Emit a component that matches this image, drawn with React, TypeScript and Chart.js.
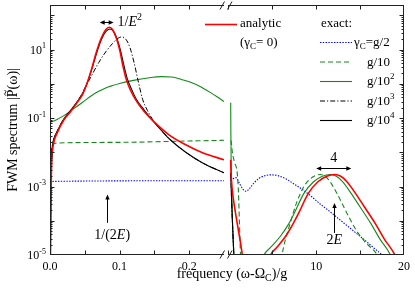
import React, { useEffect, useRef } from 'react';
import { Chart, registerables } from 'chart.js';

Chart.register(...registerables);

const FONT = '"Liberation Serif", "Times New Roman", Times, serif';
const AXIS_COLOR = '#222';

// ---------- axes ----------
const xLeftMin = 0;
const xLeftMax = 0.25;
const xRightMin = -0.5;
const xRightMax = 20;
const yMin = 1e-5;
const yMax = 200;
const xLeftTicks = [0, 0.05, 0.1, 0.15, 0.2];
const xLeftTickLabels = ['0.0', '', '0.1', '', '0.2'];
const xRightTicks = [0, 5, 10, 15, 20];
const xRightTickLabels = ['', '', '10', '', '20'];
const yLabelExponents = [-5, -3, -1, 1];

// ---------- series: [x, log10 |P(w)|] ----------
// analytic (gamma_C = 0)
const redLeft = [[0.0006,-5.3],[0.001,-4.2],[0.0015,-3.3],[0.002,-2.6],[0.003,-2.1],[0.005,-1.75],[0.01,-1.45],[0.02,-1.05],[0.03,-0.8],[0.04,-0.52],[0.047,-0.3],[0.053,0.0],[0.06,0.45],[0.067,0.95],[0.074,1.35],[0.08,1.58],[0.085,1.65],[0.09,1.58],[0.095,1.35],[0.1,1.0],[0.105,0.5],[0.11,0.1],[0.116,-0.2],[0.124,-0.5],[0.135,-0.8],[0.15,-1.12],[0.171,-1.49],[0.195,-1.78],[0.22,-2.02],[0.25,-2.22]];
const redRightEdge = [[0.26,-2.22],[0.3,-2.6],[0.44,-3.1],[0.63,-3.48],[1.0,-4.07],[1.39,-4.66],[1.65,-5.1]];
const redRightPeak = [[4.6,-5.15],[4.8,-5.0],[5.5,-4.78],[6.5,-4.46],[7.3,-4.12],[8.0,-3.78],[9.1,-3.2],[10.2,-2.86],[11.2,-2.7],[12.1,-2.65],[12.8,-2.7],[13.5,-2.86],[14.4,-3.17],[15.5,-3.6],[16.7,-4.07],[17.8,-4.55],[18.9,-4.97],[19.1,-5.1]];
// exact, gamma_C = g/10^4
const blackLeft = [[0.0005,-5.3],[0.0009,-4],[0.0013,-3],[0.002,-2.3],[0.003,-1.9],[0.005,-1.65],[0.01,-1.4],[0.02,-1.02],[0.03,-0.77],[0.04,-0.5],[0.047,-0.28],[0.053,0.0],[0.06,0.42],[0.067,0.9],[0.074,1.3],[0.08,1.52],[0.086,1.6],[0.091,1.54],[0.096,1.33],[0.101,1.0],[0.106,0.55],[0.111,0.15],[0.117,-0.15],[0.124,-0.45],[0.135,-0.76],[0.147,-1.06],[0.16,-1.36],[0.172,-1.62],[0.195,-2.0],[0.22,-2.32],[0.25,-2.6]];
const blackRightEdge = [[0.26,-2.6],[0.35,-3.3],[0.45,-4.0],[0.55,-4.6],[0.66,-5.2]];
// exact, gamma_C = g/10^3
const dashDotLeft = [[0.0005,-5.3],[0.0009,-4],[0.0013,-3],[0.002,-2.3],[0.003,-1.9],[0.005,-1.65],[0.01,-1.4],[0.02,-1.02],[0.03,-0.77],[0.04,-0.5],[0.05,-0.13],[0.06,0.25],[0.07,0.62],[0.08,0.93],[0.09,1.18],[0.097,1.32],[0.103,1.37],[0.109,1.3],[0.115,1.05],[0.121,0.6],[0.127,0.05],[0.133,-0.45],[0.14,-0.78],[0.148,-1.06],[0.16,-1.36],[0.172,-1.62],[0.195,-2.0],[0.22,-2.32],[0.25,-2.6]];
const dashDotRightEdge = [[0.26,-2.6],[0.35,-3.3],[0.45,-4.0],[0.55,-4.6],[0.66,-5.2]];
// exact, gamma_C = g/10^2
const greenLeft = [[0,-1.13],[0.01,-1.04],[0.02,-0.93],[0.03,-0.79],[0.04,-0.64],[0.05,-0.49],[0.06,-0.34],[0.07,-0.22],[0.08,-0.12],[0.09,-0.05],[0.1,0.01],[0.12,0.1],[0.14,0.17],[0.16,0.21],[0.175,0.2],[0.19,0.12],[0.2,0.06],[0.21,-0.02],[0.22,-0.13],[0.23,-0.25],[0.24,-0.38],[0.25,-0.52]];
const greenRightEdge = [[0.26,-0.55],[0.28,-1.4],[0.31,-2.2],[0.36,-3.0],[0.45,-3.9],[0.55,-4.6],[0.66,-5.2]];
const greenRightPeak = [[3.85,-5.15],[4.05,-5.0],[4.8,-4.78],[5.9,-4.46],[6.8,-4.12],[7.5,-3.78],[8.6,-3.2],[9.7,-2.86],[10.7,-2.7],[11.6,-2.65],[12.3,-2.7],[13.0,-2.86],[13.9,-3.17],[15.0,-3.6],[16.2,-4.07],[17.3,-4.55],[18.4,-4.97],[18.6,-5.1]];
// exact, gamma_C = g/10
const greenDashLeft = [[0.0005,-5.3],[0.001,-3],[0.002,-2.1],[0.004,-1.78],[0.01,-1.73],[0.1,-1.71],[0.2,-1.67],[0.25,-1.65]];
const greenDashRightEdge = [[0.26,-1.65],[0.35,-1.75],[0.45,-2.0],[0.7,-2.3],[1.0,-2.6],[1.15,-3.2],[1.25,-4.0],[1.35,-4.8],[1.42,-5.2]];
const greenDashRightPeak = [[6.0,-5.15],[6.3,-4.75],[7.0,-4.1],[7.8,-3.45],[8.6,-3.0],[9.3,-2.78],[10.0,-2.67],[10.5,-2.65],[11.0,-2.7],[11.5,-2.83],[12.4,-3.22],[13.5,-3.78],[14.5,-4.25],[15.5,-4.6],[16.5,-4.85],[17.3,-5.1]];
// exact, gamma_C = g/2
const blueLeft = [[0.0005,-5.3],[0.001,-3.5],[0.002,-2.9],[0.005,-2.85],[0.25,-2.83]];
const blueRight = [[0.26,-2.83],[0.5,-2.78],[0.85,-2.74],[1.2,-2.88],[1.6,-3.06],[2.0,-3.14],[2.4,-3.06],[2.9,-2.9],[3.5,-2.76],[4.2,-2.68],[4.9,-2.66],[5.6,-2.68],[6.5,-2.77],[7.5,-2.93],[8.5,-3.1],[9.5,-3.3],[10.5,-3.52],[11.5,-3.72],[12.5,-3.93],[13.5,-4.14],[14.5,-4.35],[15.5,-4.56],[16.5,-4.78],[17.5,-5.0],[17.8,-5.1]];

// ---------- annotations (data coordinates) ----------
const widthArrowLeftX = [0.0714, 0.0914];
const widthArrowLeftY = 63;
const widthTextLeftX = 0.097;
const peakArrowLeftX = 0.0826;
const peakArrowLeftY = [8.7e-5, 5.8e-4];
const peakTextLeft = { x: 0.0893, y: 3.8e-5 };
const widthArrowRightX = [10, 14];
const widthArrowRightY = 3.5e-3;
const widthTextRight = { x: 12, y: 6.6e-3 };
const peakArrowRightX = 12.07;
const peakArrowRightY = [4.4e-5, 3.3e-4];
const peakTextRight = { x: 12.07, y: 2.6e-5 };

type Seg = { t: string; sub?: boolean; sup?: boolean; it?: boolean; tilde?: boolean };

const legendAnalytic: Seg[] = [{ t: 'analytic' }];
const legendAnalyticNote: Seg[] = [{ t: '(γ' }, { t: 'C', sub: true }, { t: '= 0)' }];
const legendExactTitle: Seg[] = [{ t: 'exact:' }];
const legendExact: Seg[][] = [
  [{ t: 'γ' }, { t: 'C', sub: true }, { t: '=g/2' }],
  [{ t: 'g/10' }],
  [{ t: 'g/10' }, { t: '2', sup: true }],
  [{ t: 'g/10' }, { t: '3', sup: true }],
  [{ t: 'g/10' }, { t: '4', sup: true }],
];
const xTitle: Seg[] = [{ t: 'frequency (ω-Ω' }, { t: 'C', sub: true }, { t: ')/g' }];
const yTitle: Seg[] = [{ t: 'FWM spectrum |' }, { t: 'P', tilde: true }, { t: '(ω)|' }];
const widthLabelLeft: Seg[] = [{ t: '1/' }, { t: 'E', it: true }, { t: '2', sup: true }];
const peakLabelLeft: Seg[] = [{ t: '1/(2' }, { t: 'E', it: true }, { t: ')' }];
const widthLabelRight: Seg[] = [{ t: '4' }];
const peakLabelRight: Seg[] = [{ t: '2' }, { t: 'E', it: true }];

const pts = (arr: number[][]) => arr.map(([x, e]) => ({ x, y: Math.pow(10, e) }));

const RED = '#ff0000';
const GREEN = '#14891a';
const BLUE = '#0000ff';
const BLACK = '#000000';

function ds(label: string, data: number[][], axis: string, color: string, width: number, dash: number[]) {
  return {
    label,
    data: pts(data),
    xAxisID: axis,
    yAxisID: 'y',
    borderColor: color,
    backgroundColor: color,
    borderWidth: width,
    borderDash: dash,
    pointRadius: 0,
    fill: false,
    cubicInterpolationMode: 'monotone' as const,
  };
}

const DASH_DOT = [5, 2, 1.2, 2];
const DASHED = [5, 3];
const DOTTED = [1.4, 1.4];

function segFont(s: Seg, size: number) {
  const sz = s.sub || s.sup ? Math.round(size * 0.7) : size;
  return `${s.it ? 'italic ' : ''}${sz}px ${FONT}`;
}
function richWidth(ctx: CanvasRenderingContext2D, segs: Seg[], size: number) {
  let w = 0;
  for (const s of segs) {
    ctx.font = segFont(s, size);
    w += ctx.measureText(s.t).width;
  }
  return w;
}
function drawRich(ctx: CanvasRenderingContext2D, segs: Seg[], x: number, y: number, size: number, align: 'left' | 'center' | 'right') {
  const w = richWidth(ctx, segs, size);
  let cx = align === 'left' ? x : align === 'center' ? x - w / 2 : x - w;
  ctx.textAlign = 'left';
  ctx.textBaseline = 'middle';
  for (const s of segs) {
    ctx.font = segFont(s, size);
    const dy = s.sub ? size * 0.3 : s.sup ? -size * 0.38 : 0;
    ctx.fillText(s.t, cx, y + dy);
    const sw = ctx.measureText(s.t).width;
    if (s.tilde) {
      const ty = y - size * 0.55;
      const a = cx + 1.5;
      const b = cx + sw - 0.5;
      const m = (a + b) / 2;
      ctx.save();
      ctx.lineWidth = 0.9;
      ctx.strokeStyle = ctx.fillStyle as string;
      ctx.beginPath();
      ctx.moveTo(a, ty + 0.8);
      ctx.quadraticCurveTo((a + m) / 2, ty - 1.6, m, ty);
      ctx.quadraticCurveTo((m + b) / 2, ty + 1.6, b, ty - 0.8);
      ctx.stroke();
      ctx.restore();
    }
    cx += sw;
  }
}
function line(ctx: CanvasRenderingContext2D, x1: number, y1: number, x2: number, y2: number) {
  ctx.beginPath();
  ctx.moveTo(x1, y1);
  ctx.lineTo(x2, y2);
  ctx.stroke();
}
function head(ctx: CanvasRenderingContext2D, x: number, y: number, dx: number, dy: number) {
  const L = 5, W = 2.2;
  const px = -dy, py = dx;
  ctx.beginPath();
  ctx.moveTo(x, y);
  ctx.lineTo(x - dx * L + px * W, y - dy * L + py * W);
  ctx.lineTo(x - dx * L - px * W, y - dy * L - py * W);
  ctx.closePath();
  ctx.fill();
}

const decor = {
  id: 'decor',
  afterDatasetsDraw(chart: any) {
    const ctx: CanvasRenderingContext2D = chart.ctx;
    const ca = chart.chartArea;
    const xL = chart.scales.xL;
    const xR = chart.scales.xR;
    const y = chart.scales.y;
    ctx.save();
    ctx.setLineDash([]);
    ctx.strokeStyle = AXIS_COLOR;
    ctx.fillStyle = '#000';
    ctx.lineWidth = 1;
    const L = Math.round(ca.left) + 0.5;
    const R = Math.round(ca.right) - 0.5;
    const T = Math.round(ca.top) + 0.5;
    const B = Math.round(ca.bottom) - 0.5;
    ctx.strokeRect(L, T, R - L, B - T);

    // x ticks (inward, top and bottom)
    const xt = (p: number, len: number) => {
      const q = Math.round(p) + 0.5;
      if (q <= L + 1 || q >= R - 1) return;
      line(ctx, q, B, q, B - len);
      line(ctx, q, T, q, T + len);
    };
    xLeftTicks.forEach((v) => xt(xL.getPixelForValue(v), 4));
    xRightTicks.forEach((v) => xt(xR.getPixelForValue(v), 4));

    // y ticks (log decades + minors), left and right
    for (let k = -5; k <= 2; k++) {
      for (let m = 1; m <= 9; m++) {
        const v = m * Math.pow(10, k);
        if (v < yMin || v > yMax) continue;
        const q = Math.round(y.getPixelForValue(v)) + 0.5;
        const len = m === 1 ? 4 : 2;
        if (q > T + 0.5 && q < B - 0.5) {
          line(ctx, L, q, L + len, q);
          line(ctx, R, q, R - len, q);
        }
      }
    }
    // y labels
    ctx.fillStyle = '#000';
    yLabelExponents.forEach((e) => {
      const q = y.getPixelForValue(Math.pow(10, e));
      drawRich(ctx, [{ t: '10' }, { t: String(e), sup: true }], ca.left - 4, q + 1, 12, 'right');
    });

    // axis break marks
    const bx = Math.round(xL.right) + 2;
    [B, T].forEach((yy) => {
      ctx.fillStyle = '#fff';
      ctx.fillRect(bx - 2, yy - 1, 4, 2);
      ctx.strokeStyle = AXIS_COLOR;
      line(ctx, bx - 6, yy + 4, bx - 1.5, yy - 4);
      line(ctx, bx + 1.5, yy + 4, bx + 6, yy - 4);
    });
    ctx.fillStyle = '#000';
    ctx.strokeStyle = '#000';

    // titles
    drawRich(ctx, xTitle, (ca.left + ca.right) / 2 + 5, ca.bottom + 19, 14, 'center');
    ctx.save();
    ctx.translate(13, (ca.top + ca.bottom) / 2);
    ctx.rotate(-Math.PI / 2);
    drawRich(ctx, yTitle, 0, 0, 14, 'center');
    ctx.restore();

    // annotations
    ctx.lineWidth = 1;
    {
      const a = xL.getPixelForValue(widthArrowLeftX[0]);
      const b = xL.getPixelForValue(widthArrowLeftX[1]);
      const yy = Math.round(y.getPixelForValue(widthArrowLeftY)) + 0.5;
      line(ctx, a + 2, yy, b - 2, yy);
      head(ctx, a, yy, -1, 0);
      head(ctx, b, yy, 1, 0);
      drawRich(ctx, widthLabelLeft, xL.getPixelForValue(widthTextLeftX), yy, 14, 'left');
    }
    {
      const xx = Math.round(xL.getPixelForValue(peakArrowLeftX)) + 0.5;
      const y1 = y.getPixelForValue(peakArrowLeftY[0]);
      const y2 = y.getPixelForValue(peakArrowLeftY[1]);
      line(ctx, xx, y1, xx, y2 + 3);
      head(ctx, xx, y2, 0, -1);
      drawRich(ctx, peakLabelLeft, xL.getPixelForValue(peakTextLeft.x), y.getPixelForValue(peakTextLeft.y), 14, 'center');
    }
    {
      const a = xR.getPixelForValue(widthArrowRightX[0]);
      const b = xR.getPixelForValue(widthArrowRightX[1]);
      const yy = Math.round(y.getPixelForValue(widthArrowRightY)) + 0.5;
      line(ctx, a + 2, yy, b - 2, yy);
      head(ctx, a, yy, -1, 0);
      head(ctx, b, yy, 1, 0);
      drawRich(ctx, widthLabelRight, xR.getPixelForValue(widthTextRight.x), y.getPixelForValue(widthTextRight.y), 14, 'center');
    }
    {
      const xx = Math.round(xR.getPixelForValue(peakArrowRightX)) + 0.5;
      const y1 = y.getPixelForValue(peakArrowRightY[0]);
      const y2 = y.getPixelForValue(peakArrowRightY[1]);
      line(ctx, xx, y1, xx, y2 + 3);
      head(ctx, xx, y2, 0, -1);
      drawRich(ctx, peakLabelRight, xR.getPixelForValue(peakTextRight.x), y.getPixelForValue(peakTextRight.y), 14, 'center');
    }

    // legend
    const dsets = chart.data.datasets;
    const sample = (d: any, x1: number, x2: number, yy: number) => {
      ctx.save();
      ctx.strokeStyle = d.borderColor;
      ctx.lineWidth = d.borderWidth;
      ctx.setLineDash(d.borderDash || []);
      line(ctx, x1, yy, x2, yy);
      ctx.restore();
    };
    const ox = ca.left;
    const oy = ca.top;
    const red = dsets.find((d: any) => d.label === 'analytic');
    sample(red, ox + 155, ox + 187, oy + 19.5);
    ctx.fillStyle = '#000';
    drawRich(ctx, legendAnalytic, ox + 190, oy + 19, 13, 'left');
    drawRich(ctx, legendAnalyticNote, ox + 190, oy + 38, 13, 'left');
    drawRich(ctx, legendExactTitle, ox + 271, oy + 19, 13, 'left');
    const exactNames = ['γC=g/2', 'g/10', 'g/10^2', 'g/10^3', 'g/10^4'];
    exactNames.forEach((n, i) => {
      const d = dsets.find((dd: any) => dd.label === n);
      const yy = oy + 37.5 + i * 19.5;
      sample(d, ox + 270, ox + 302, yy);
      ctx.fillStyle = '#000';
      drawRich(ctx, legendExact[i], i === 0 ? ox + 304 : ox + 317, yy + 0.5, 13, 'left');
    });
    ctx.restore();
  },
};

export default function App() {
  const ref = useRef<HTMLCanvasElement>(null);
  useEffect(() => {
    const tickFont = { family: FONT, size: 12 };
    const chart = new Chart(ref.current as HTMLCanvasElement, {
      type: 'line',
      data: {
        datasets: [
          ds('analytic', redLeft, 'xL', RED, 1.6, []),
          ds('analytic-r1', redRightEdge, 'xR', RED, 1.6, []),
          ds('analytic-r2', redRightPeak, 'xR', RED, 1.6, []),
          ds('g/10^4', blackLeft, 'xL', BLACK, 1.1, []),
          ds('g/10^4-r', blackRightEdge, 'xR', BLACK, 1.1, []),
          ds('g/10^3', dashDotLeft, 'xL', BLACK, 1, DASH_DOT),
          ds('g/10^3-r', dashDotRightEdge, 'xR', BLACK, 1, DASH_DOT),
          ds('g/10^2', greenLeft, 'xL', GREEN, 1.1, []),
          ds('g/10^2-r1', greenRightEdge, 'xR', GREEN, 1.1, []),
          ds('g/10^2-r2', greenRightPeak, 'xR', GREEN, 1.1, []),
          ds('g/10', greenDashLeft, 'xL', GREEN, 1.1, DASHED),
          ds('g/10-r1', greenDashRightEdge, 'xR', GREEN, 1.1, DASHED),
          ds('g/10-r2', greenDashRightPeak, 'xR', GREEN, 1.1, DASHED),
          ds('γC=g/2', blueLeft, 'xL', BLUE, 1.1, DOTTED),
          ds('γC=g/2-r', blueRight, 'xR', BLUE, 1.1, DOTTED),
        ] as any,
      },
      options: {
        animation: false,
        responsive: true,
        maintainAspectRatio: false,
        devicePixelRatio: 1,
        events: [],
        layout: { padding: { top: 5, right: 9, left: 0, bottom: 0 } },
        plugins: { legend: { display: false }, tooltip: { enabled: false } },
        scales: {
          xL: {
            type: 'linear',
            position: 'bottom',
            stack: 'xbottom',
            stackWeight: 175,
            min: xLeftMin,
            max: xLeftMax,
            afterBuildTicks: (s: any) => { s.ticks = xLeftTicks.map((v) => ({ value: v })); },
            afterFit: (s: any) => { s.height = 38; },
            ticks: { autoSkip: false, maxRotation: 0, font: tickFont, color: '#000', padding: 5, callback: (_v: any, i: number) => xLeftTickLabels[i] },
            grid: { display: false, drawTicks: false },
            border: { display: false },
          },
          xR: {
            type: 'linear',
            position: 'bottom',
            stack: 'xbottom',
            stackWeight: 181,
            min: xRightMin,
            max: xRightMax,
            afterBuildTicks: (s: any) => { s.ticks = xRightTicks.map((v) => ({ value: v })); },
            afterFit: (s: any) => { s.height = 38; },
            ticks: { autoSkip: false, maxRotation: 0, font: tickFont, color: '#000', padding: 5, callback: (_v: any, i: number) => xRightTickLabels[i] },
            grid: { display: false, drawTicks: false },
            border: { display: false },
          },
          y: {
            type: 'logarithmic',
            position: 'left',
            min: yMin,
            max: yMax,
            afterFit: (s: any) => { s.width = 50; },
            ticks: { display: false },
            grid: { display: false },
            border: { display: false },
          },
        } as any,
      },
      plugins: [decor],
    });
    return () => chart.destroy();
  }, []);
  return (
    <div style={{ position: 'fixed', left: 0, top: 0, width: 415, height: 293, background: '#fff' }}>
      <canvas ref={ref} />
    </div>
  );
}
